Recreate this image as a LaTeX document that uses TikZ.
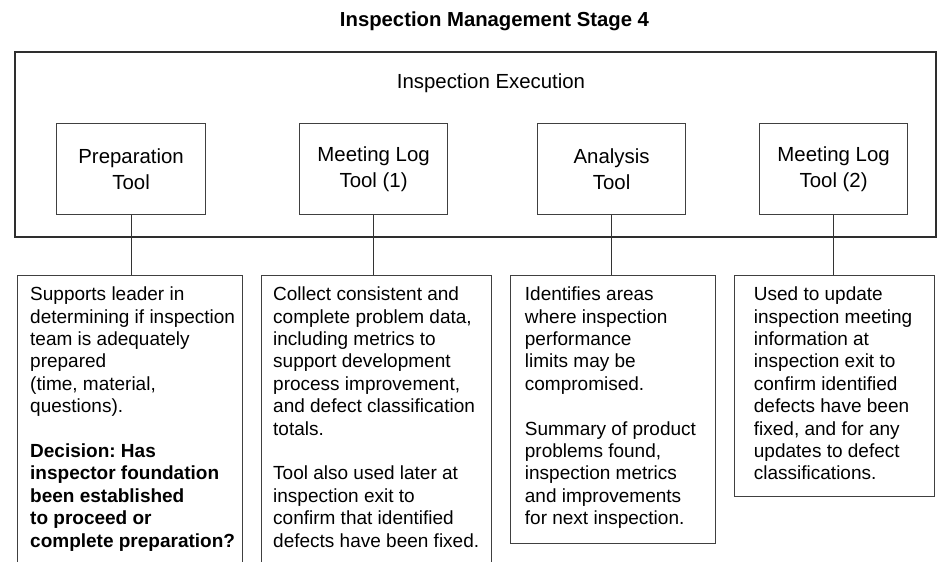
\documentclass[tikz,border=0pt]{standalone}
\usepackage{fontspec}
\setmainfont{Liberation Sans}
\frenchspacing
\begin{document}
\begin{tikzpicture}[x=1pt,y=-1pt,
  frame/.style={draw=black!82, line width=2.2pt, inner sep=0pt, anchor=north west,
    minimum width=921pt, minimum height=185pt},
  toolbox/.style={draw=black!75, line width=1.2pt, minimum width=149pt, minimum height=91pt,
    anchor=north west, inner sep=0pt, align=center, font=\fontsize{20.4}{26.7}\selectfont},
  notebox/.style={draw=black!75, line width=1.2pt, anchor=north west, inner sep=0pt},
  notetext/.style={anchor=north west, inner sep=0pt, align=left,
    font=\fontsize{19}{22.4}\selectfont\frenchspacing, execute at begin node={\rule{0pt}{14pt}}},
  link/.style={draw=black!80, line width=1pt}
]
\useasboundingbox (0,0) rectangle (937,562);

% heading
\node[anchor=base, inner sep=0pt, font=\fontsize{20.3}{24}\selectfont\bfseries] (title) at (494.5,26)
  {Inspection Management Stage 4};

% execution frame with its four tools
\node[frame] (exec) at (14,51) {};
\node[anchor=base, inner sep=0pt, font=\fontsize{20.4}{24}\selectfont] (execlabel) at (491,88)
  {Inspection Execution};

\node[toolbox] (prep) at (56,123) {Preparation\\Tool};
\node[toolbox, minimum width=148pt] (mlogA) at (299,123) {Meeting Log\\Tool (1)};
\node[toolbox, minimum width=148pt] (anal) at (537,123) {Analysis\\Tool};
\node[toolbox, minimum width=148pt] (mlogB) at (759,123) {Meeting Log\\Tool (2)};

% description boxes
\node[notebox, minimum width=225pt, minimum height=330pt] (noteA) at (17,275) {};
\node[notebox, minimum width=230pt, minimum height=330pt] (noteB) at (261,275) {};
\node[notebox, minimum width=205pt, minimum height=268pt] (noteC) at (510,275) {};
\node[notebox, minimum width=200pt, minimum height=221pt] (noteD) at (734,275) {};

\node[notetext] (textA) at (30,286.7)
  {Supports leader in\\determining if inspection\\team is adequately\\prepared\\(time, material,\\questions).\\[22.4pt]
   \textbf{Decision: Has}\\\textbf{inspector foundation}\\\textbf{been established}\\\textbf{to proceed or}\\\textbf{complete preparation?}};
\node[notetext] (textB) at (273,286.7)
  {Collect consistent and\\complete problem data,\\including metrics to\\support development\\process improvement,\\and defect classification\\totals.\\[22.4pt]
   Tool also used later at\\inspection exit to\\confirm that identified\\defects have been fixed.};
\node[notetext] (textC) at (524.7,286.7)
  {Identifies areas\\where inspection\\performance\\limits may be\\compromised.\\[22.4pt]
   Summary of product\\problems found,\\inspection metrics\\and improvements\\for next inspection.};
\node[notetext] (textD) at (753.7,286.7)
  {Used to update\\inspection meeting\\information at\\inspection exit to\\confirm identified\\defects have been\\fixed, and for any\\updates to defect\\classifications.};

% connectors from each tool to its description
\draw[link] (prep.south) -- (prep.south |- noteA.north);
\draw[link] (mlogA.south) -- (mlogA.south |- noteB.north);
\draw[link] (anal.south) -- (anal.south |- noteC.north);
\draw[link] (mlogB.south) -- (mlogB.south |- noteD.north);
\end{tikzpicture}
\end{document}
